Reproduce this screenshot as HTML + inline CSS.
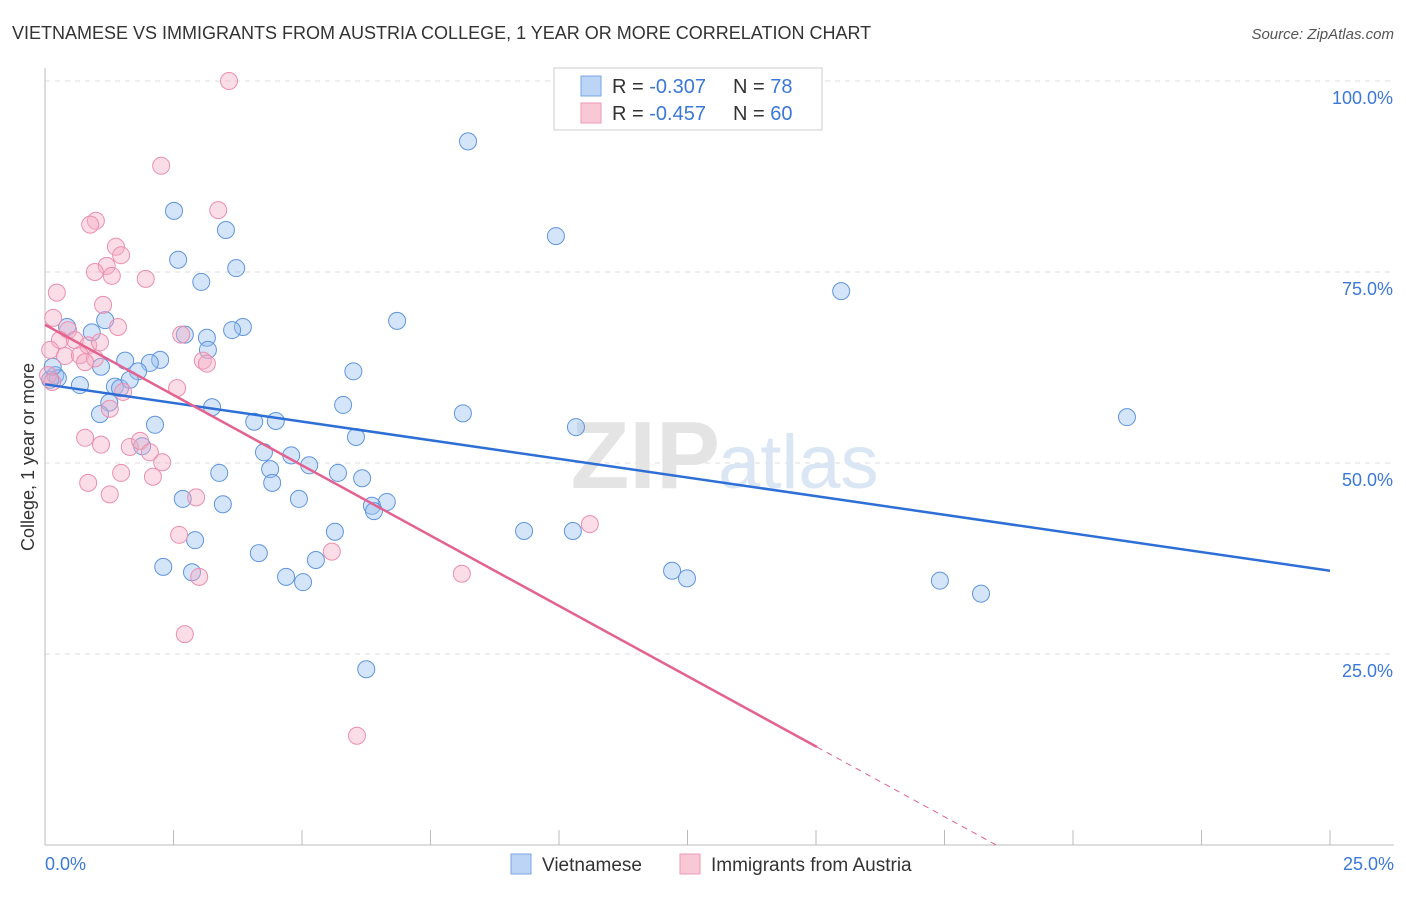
<!DOCTYPE html>
<html><head><meta charset="utf-8">
<style>
body{margin:0;background:#fff;font-family:"Liberation Sans",sans-serif;}
svg text{font-family:"Liberation Sans",sans-serif;}
</style></head>
<body>
<svg width="1406" height="892" viewBox="0 0 1406 892">
<text x="12" y="39" font-size="18" fill="#333">VIETNAMESE VS IMMIGRANTS FROM AUSTRIA COLLEGE, 1 YEAR OR MORE CORRELATION CHART</text>
<text x="1394" y="39" font-size="15" fill="#555" font-style="italic" text-anchor="end">Source: ZipAtlas.com</text>
<g id="grid"></g>
<text x="720" y="488" font-size="96" fill="#e4e4e4" text-anchor="end" font-family="Liberation Serif" font-weight="bold">ZIP</text>
<text x="718" y="488" font-size="76" fill="#dbe6f5">atlas</text>
<g id="pts"></g>
<g id="lines"></g>
<text transform="translate(34,457) rotate(-90)" font-size="18" fill="#333" text-anchor="middle">College, 1 year or more</text>
<text x="45" y="870" font-size="18" fill="#3b78d8">0.0%</text>
<text x="1394" y="870" font-size="18" fill="#3b78d8" text-anchor="end">25.0%</text>
<g>
<rect x="554" y="68" width="268" height="62" fill="#fff" stroke="#ccc"/>
<rect x="581" y="76" width="20" height="20" fill="#bcd4f5" stroke="#7aa6e6"/>
<rect x="581" y="103" width="20" height="20" fill="#f9c8d7" stroke="#ee9ab5"/>
<text x="612" y="93" font-size="20" fill="#333">R = <tspan fill="#3b78d8">-0.307</tspan><tspan x="733">N = </tspan><tspan fill="#3b78d8">78</tspan></text>
<text x="612" y="120" font-size="20" fill="#333">R = <tspan fill="#3b78d8">-0.457</tspan><tspan x="733">N = </tspan><tspan fill="#3b78d8">60</tspan></text>
</g>
<g>
<rect x="511" y="854" width="20" height="20" fill="#bcd4f5" stroke="#7aa6e6"/>
<text x="542" y="871" font-size="19" fill="#333">Vietnamese</text>
<rect x="680" y="854" width="20" height="20" fill="#f9c8d7" stroke="#ee9ab5"/>
<text x="711" y="871" font-size="19" fill="#333">Immigrants from Austria</text>
</g>
</svg>
<script>
const yTicks=[100,75,50,25];
const yTickLabels=["100.0%","75.0%","50.0%","25.0%"];
const blueX=[8.23,9.94,15.49,21.05,2.51,3.52,2.59,3.72,3.04,6.85,3.85,3.64,2.72,3.15,0.91,1.17,0.43,3.17,1.56,2.24,2.04,1.09,1.81,6.0,0.2,0.25,0.68,1.36,1.46,1.65,1.25,3.25,5.8,8.13,1.07,4.07,4.49,2.14,10.33,6.05,1.89,4.26,4.79,5.14,4.38,5.7,3.39,6.17,4.42,2.68,4.94,3.46,6.65,6.36,6.4,9.32,10.27,5.64,2.92,4.16,5.27,2.3,2.86,12.2,12.49,4.69,5.02,17.41,18.21,6.25,0.1,0.15];
const blueY=[92.1,79.7,72.5,56.0,83.0,80.5,76.6,75.5,73.7,68.6,67.8,67.4,66.8,66.4,67.1,68.7,67.8,64.8,63.4,63.5,63.1,62.6,62.0,62.0,61.5,61.1,60.2,60.0,59.8,60.9,57.9,57.3,57.6,56.5,56.4,55.4,55.5,55.0,54.7,53.4,52.2,51.4,51.0,49.7,49.2,48.7,48.7,48.0,47.4,45.3,45.3,44.6,44.9,44.4,43.7,41.1,41.1,41.0,39.9,38.2,37.3,36.4,35.7,35.9,34.9,35.1,34.4,34.6,32.9,23.0,60.9,62.6];
const pinkX=[3.58,2.26,3.37,0.99,0.88,1.38,1.48,1.2,0.97,1.3,1.96,0.23,1.13,0.16,1.42,2.65,0.45,0.29,0.58,0.84,1.07,0.1,0.39,0.68,0.97,0.78,3.07,3.15,0.06,0.14,2.57,1.52,1.26,0.78,1.09,1.65,1.85,2.04,2.28,1.48,2.1,0.84,1.26,2.94,2.61,10.6,5.58,8.11,3.0,2.72,6.07];
const pinkY=[100,88.9,83.1,81.7,81.2,78.3,77.2,75.8,75.0,74.5,74.1,72.3,70.7,69.0,67.8,66.8,67.4,66.1,66.1,65.4,65.8,64.8,64.0,64.1,63.7,63.2,63.4,63.0,61.5,60.6,59.8,59.3,57.1,53.3,52.4,52.1,52.9,51.4,50.1,48.7,48.2,47.4,45.9,45.5,40.6,42.0,38.4,35.5,35.1,27.6,14.3];
const blueTrend=[60.3,35.9];
const pinkTrend=[68.1,-3.68];
const NS='http://www.w3.org/2000/svg';
const X=v=>45+v/25*1285, Y=v=>845-v/100*764;
function mk(t,a,p){const e=document.createElementNS(NS,t);for(const k in a)e.setAttribute(k,a[k]);document.getElementById(p).appendChild(e);return e;}
yTicks.forEach((t,i)=>{
 const l=mk('line',{x1:45,x2:1394,y1:Y(t),y2:Y(t),stroke:'#ddd','stroke-dasharray':'5,5'},'grid');
 
 
 const tx=mk('text',{x:1393,y:Y(t)+23,'font-size':18,fill:'#3b78d8','text-anchor':'end'},'grid');
 tx.textContent=yTickLabels[i];
 
 
});
const ax=mk('line',{x1:45,x2:1394,y1:845,y2:845,stroke:'#bbb'},'grid');


const ay=mk('line',{x1:45,x2:45,y1:68,y2:845,stroke:'#bbb'},'grid');


for(let i=1;i<=10;i++){const t=mk('line',{x1:X(i*2.5),x2:X(i*2.5),y1:830,y2:845,stroke:'#bbb'},'grid');
 
 }
blueX.forEach((x,i)=>{const c=mk('circle',{cx:X(x),cy:Y(blueY[i]),r:8.5,fill:'rgba(150,190,240,0.4)',stroke:'#5f95de','stroke-width':1},'pts');
 
 });
pinkX.forEach((x,i)=>{const c=mk('circle',{cx:X(x),cy:Y(pinkY[i]),r:8.5,fill:'rgba(246,170,195,0.4)',stroke:'#ec8fae','stroke-width':1},'pts');
 
 });
const bl=mk('line',{x1:X(0),y1:Y(blueTrend[0]),x2:X(25),y2:Y(blueTrend[1]),stroke:'#2d6fd6','stroke-width':2.5},'lines');


const pe=15.02, pz=-pinkTrend[0]/pinkTrend[1];
const pl=mk('line',{x1:X(0),y1:Y(pinkTrend[0]),x2:X(pe),y2:Y(pinkTrend[0]+pinkTrend[1]*pe),stroke:'#e4628f','stroke-width':2.5},'lines');


const pd=mk('line',{x1:X(pe),y1:Y(pinkTrend[0]+pinkTrend[1]*pe),x2:X(pz),y2:Y(0),stroke:'#e4628f','stroke-width':1,'stroke-dasharray':'6,5'},'lines');


</script>
</body></html>
